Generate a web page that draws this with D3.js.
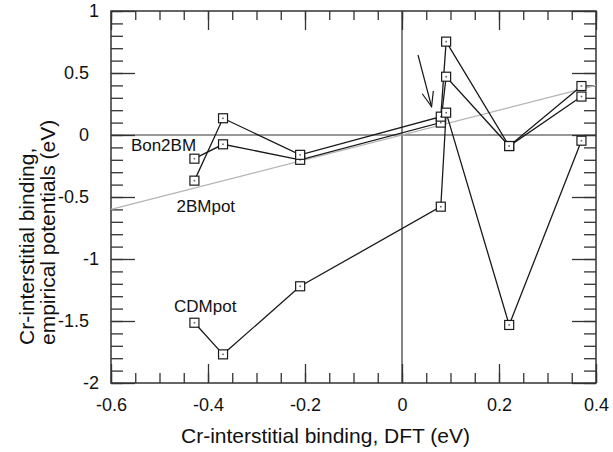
<!DOCTYPE html>
<meta charset="utf-8">
<head>
    <title>Cr-interstitial binding</title>
</head>
<style>
    body { margin: 0; background: #fff; }
    svg text { font-family: "Liberation Sans", Arial, Helvetica, sans-serif; fill: #111; }
</style>
<body>
    <svg id="chart" width="613" height="452"></svg>

    <script src="https://cdnjs.cloudflare.com/ajax/libs/d3/7.8.5/d3.min.js"></script>
    <script>
        // DFT binding energies (x) shared by the three potentials
        var dftBinding = [-0.428, -0.369, -0.21, 0.08, 0.091, 0.221, 0.37]
        var bon2BM = [-0.191, -0.075, -0.20, 0.10, 0.47, -0.089, 0.31]
        var twoBMpot = [-0.368, 0.135, -0.16, 0.148, 0.753, -0.089, 0.395]
        var cdmPot = [-1.514, -1.769, -1.22, -0.578, 0.18, -1.532, -0.046]

        var seriesNames = ['Bon2BM', '2BMpot', 'CDMpot']
        // label anchors, in data units
        var labelX = [-0.559, -0.465, -0.47]
        var labelY = [-0.127, -0.618, -1.425]

        var xMajor = [-0.6, -0.4, -0.2, 0, 0.2, 0.4]
        var yMajor = [-2, -1.5, -1, -0.5, 0, 0.5, 1]

        // arrow pointing at the 0.08 cluster
        var arrowFrom = [0.033, 0.645]
        var arrowTo = [0.061, 0.228]

        var plotL = 111, plotR = 596, plotT = 11, plotB = 383

        var svg = d3.select('#chart')
        var x = d3.scaleLinear().domain([-0.6, 0.4]).range([plotL, plotR])
        var y = d3.scaleLinear().domain([-2, 1]).range([plotB, plotT])

        var xMinor = d3.range(-12, 9).map(function (i) { return i * 0.05 })
        var yMinor = d3.range(-20, 11).map(function (i) { return i * 0.1 })

        function styleAxis(g) {
            g.select('.domain').remove()
            g.selectAll('.tick line').attr('stroke', '#333').attr('stroke-width', 1.3)
        }

        // minor ticks, all four sides, pointing inward
        svg.append('g').attr('transform', 'translate(0,' + plotB + ')')
            .call(d3.axisBottom(x).tickValues(xMinor).tickSize(-10).tickFormat(''))
            .call(styleAxis)
        svg.append('g').attr('transform', 'translate(0,' + plotT + ')')
            .call(d3.axisTop(x).tickValues(xMinor).tickSize(-9).tickFormat(''))
            .call(styleAxis)
        svg.append('g').attr('transform', 'translate(' + plotL + ',0)')
            .call(d3.axisLeft(y).tickValues(yMinor).tickSize(-12).tickFormat(''))
            .call(styleAxis)
        svg.append('g').attr('transform', 'translate(' + plotR + ',0)')
            .call(d3.axisRight(y).tickValues(yMinor).tickSize(-12).tickFormat(''))
            .call(styleAxis)

        // major ticks with labels
        var fmt = function (d) { return String(+d.toFixed(1)) }
        var gx = svg.append('g').attr('transform', 'translate(0,' + plotB + ')')
            .call(d3.axisBottom(x).tickValues(xMajor).tickSize(-19).tickPadding(15).tickFormat(fmt))
            .call(styleAxis)
        gx.selectAll('text').attr('font-size', 18)
        svg.append('g').attr('transform', 'translate(0,' + plotT + ')')
            .call(d3.axisTop(x).tickValues(xMajor).tickSize(-19).tickFormat(''))
            .call(styleAxis)
        var gy = svg.append('g').attr('transform', 'translate(' + plotL + ',0)')
            .call(d3.axisLeft(y).tickValues(yMajor).tickSize(-24).tickPadding(22).tickFormat(fmt))
            .call(styleAxis)
        gy.selectAll('text').attr('font-size', 18)
            .attr('dx', function (d) { return (d !== 0 && Number.isInteger(d)) ? 10 : 0 })
        svg.append('g').attr('transform', 'translate(' + plotR + ',0)')
            .call(d3.axisRight(y).tickValues(yMajor).tickSize(-24).tickFormat(''))
            .call(styleAxis)

        // frame
        svg.append('rect')
            .attr('x', plotL).attr('y', plotT)
            .attr('width', plotR - plotL).attr('height', plotB - plotT)
            .attr('fill', 'none').attr('stroke', '#333').attr('stroke-width', 1.5)

        // zero lines
        svg.append('line')
            .attr('x1', plotL).attr('x2', plotR).attr('y1', y(0)).attr('y2', y(0))
            .attr('stroke', '#333').attr('stroke-width', 1.2)
        svg.append('line')
            .attr('x1', x(0)).attr('x2', x(0)).attr('y1', plotT).attr('y2', plotB)
            .attr('stroke', '#333').attr('stroke-width', 1.2)

        // y = x guide
        svg.append('line')
            .attr('x1', x(-0.6)).attr('y1', y(-0.6)).attr('x2', x(0.4)).attr('y2', y(0.4))
            .attr('stroke', '#b4b4b4').attr('stroke-width', 1.3)

        var series = [bon2BM, twoBMpot, cdmPot].map(function (vals) {
            return vals.map(function (v, i) { return [dftBinding[i], v] })
        })

        var line = d3.line().x(function (d) { return x(d[0]) }).y(function (d) { return y(d[1]) })

        svg.selectAll('path.series')
            .data(series)
            .enter().append('path')
            .attr('class', 'series')
            .attr('d', line)
            .attr('fill', 'none').attr('stroke', '#1a1a1a').attr('stroke-width', 1.3)

        // open square markers with a dot in the middle
        var pts = d3.merge(series)
        var m = svg.selectAll('g.marker')
            .data(pts)
            .enter().append('g')
            .attr('class', 'marker')
            .attr('transform', function (d) { return 'translate(' + x(d[0]) + ',' + y(d[1]) + ')' })
        m.append('rect')
            .attr('x', -4.5).attr('y', -4.5).attr('width', 9).attr('height', 9)
            .attr('fill', '#fff').attr('stroke', '#1a1a1a').attr('stroke-width', 1.2)
        m.append('rect')
            .attr('x', -0.8).attr('y', -0.8).attr('width', 1.6).attr('height', 1.6)
            .attr('fill', '#666')

        // series labels
        svg.selectAll('text.label')
            .data(seriesNames)
            .enter().append('text')
            .attr('class', 'label')
            .attr('x', function (d, i) { return x(labelX[i]) })
            .attr('y', function (d, i) { return y(labelY[i]) })
            .attr('font-size', 17)
            .text(function (d) { return d })

        // arrow
        var ax0 = x(arrowFrom[0]), ay0 = y(arrowFrom[1])
        var ax1 = x(arrowTo[0]), ay1 = y(arrowTo[1])
        var ang = Math.atan2(ay0 - ay1, ax0 - ax1)
        var headLen = 16, spread = 21 * Math.PI / 180
        svg.append('line')
            .attr('x1', ax0).attr('y1', ay0).attr('x2', ax1).attr('y2', ay1)
            .attr('stroke', '#1a1a1a').attr('stroke-width', 1.2)
        svg.append('path')
            .attr('d', 'M' + (ax1 + headLen * Math.cos(ang - spread)) + ',' + (ay1 + headLen * Math.sin(ang - spread)) +
                'L' + ax1 + ',' + ay1 +
                'L' + (ax1 + headLen * Math.cos(ang + spread)) + ',' + (ay1 + headLen * Math.sin(ang + spread)))
            .attr('fill', 'none').attr('stroke', '#1a1a1a').attr('stroke-width', 1.2)

        // axis titles
        svg.append('text')
            .attr('x', 325.5).attr('y', 443)
            .attr('text-anchor', 'middle').attr('font-size', 21)
            .text('Cr-interstitial binding, DFT (eV)')

        var yt = svg.append('text')
            .attr('transform', 'rotate(-90)')
            .attr('text-anchor', 'start').attr('font-size', 21)
        yt.append('tspan').attr('x', -345).attr('y', 34).text('Cr-interstitial binding,')
        yt.append('tspan').attr('x', -345).attr('y', 55).text('empirical potentials (eV)')
    </script>
</body>
</html>
